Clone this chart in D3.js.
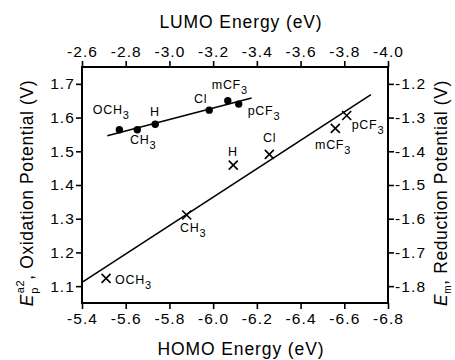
<!DOCTYPE html>
<html>
<head>
<meta charset="utf-8">
<script src="https://cdn.jsdelivr.net/npm/d3@7"></script>
<style>
  body { margin: 0; background: #fff; }
  text { font-family: "Liberation Sans", Arial, sans-serif; fill: #000; }
</style>
</head>
<body>
<div id="chart"></div>
<script>
// substituents
const names = ["OCH3", "CH3", "H", "Cl", "mCF3", "pCF3"];

// oxidation (filled circles) vs HOMO
const homo = [-5.571, -5.653, -5.735, -5.982, -6.067, -6.117];
const oxPot = [1.564, 1.564, 1.580, 1.622, 1.650, 1.640];
const oxFitX = [-5.516, -6.176];
const oxFitY = [1.546, 1.658];

// reduction (crosses) vs LUMO
const lumo = [-2.710, -3.079, -3.292, -3.457, -3.759, -3.811];
const redPot = [-1.777, -1.589, -1.441, -1.409, -1.332, -1.294];
const redFitX = [-2.6, -3.922];
const redFitY = [-1.789, -1.232];

const homoTicks = [-5.4, -5.6, -5.8, -6.0, -6.2, -6.4, -6.6, -6.8];
const lumoTicks = [-2.6, -2.8, -3.0, -3.2, -3.4, -3.6, -3.8, -4.0];
const oxTicks = [1.1, 1.2, 1.3, 1.4, 1.5, 1.6, 1.7];
const redTicks = [-1.2, -1.3, -1.4, -1.5, -1.6, -1.7, -1.8];

const width = 455, height = 360;
const margin = {top: 67, right: 67, bottom: 57, left: 82};
const w = width - margin.left - margin.right;
const h = height - margin.top - margin.bottom;

const svg = d3.select("#chart").append("svg")
    .attr("width", width).attr("height", height);
const g = svg.append("g")
    .attr("transform", `translate(${margin.left},${margin.top})`);

const xB = d3.scaleLinear().domain([-5.4, -6.8]).range([0, w]);
const xT = d3.scaleLinear().domain([-2.6, -4.0]).range([0, w]);
const yL = d3.scaleLinear().domain([1.05, 1.75]).range([h, 0]);
const yR = d3.scaleLinear().domain([-1.85, -1.15]).range([h, 0]);

const fmt = d => d.toFixed(1);

function styleAxis(sel) {
    sel.select(".domain").remove();
    sel.selectAll(".tick line").attr("stroke", "#000").attr("stroke-width", 1.6);
    sel.selectAll(".tick text")
        .style("font-size", "15.5px")
        .style("letter-spacing", "1.1px")
        .attr("fill", "#000");
}

g.append("g").attr("transform", `translate(0,${h})`)
    .call(d3.axisBottom(xB).tickValues(homoTicks).tickFormat(fmt).tickSize(6).tickPadding(4))
    .call(styleAxis);
g.append("g")
    .call(d3.axisTop(xT).tickValues(lumoTicks).tickFormat(fmt).tickSize(6).tickPadding(4))
    .call(styleAxis);
g.append("g")
    .call(d3.axisLeft(yL).tickValues(oxTicks).tickFormat(fmt).tickSize(6).tickPadding(1))
    .call(styleAxis);
g.append("g").attr("transform", `translate(${w},0)`)
    .call(d3.axisRight(yR).tickValues(redTicks).tickFormat(fmt).tickSize(6).tickPadding(1))
    .call(styleAxis);

g.append("rect")
    .attr("width", w).attr("height", h)
    .attr("fill", "none").attr("stroke", "#000").attr("stroke-width", 2);

// fit lines
g.append("line")
    .attr("x1", xB(oxFitX[0])).attr("y1", yL(oxFitY[0]))
    .attr("x2", xB(oxFitX[1])).attr("y2", yL(oxFitY[1]))
    .attr("stroke", "#000").attr("stroke-width", 1.6);
g.append("line")
    .attr("x1", xT(redFitX[0])).attr("y1", yR(redFitY[0]))
    .attr("x2", xT(redFitX[1])).attr("y2", yR(redFitY[1]))
    .attr("stroke", "#000").attr("stroke-width", 1.6);

// markers
g.selectAll(".ox").data(names).enter().append("circle")
    .attr("cx", (d, i) => xB(homo[i]))
    .attr("cy", (d, i) => yL(oxPot[i]))
    .attr("r", 3.7).attr("fill", "#000");

const s = 4.5;
g.selectAll(".red").data(names).enter().append("path")
    .attr("transform", (d, i) => `translate(${xT(lumo[i])},${yR(redPot[i])})`)
    .attr("d", `M${-s},${-s}L${s},${s}M${-s},${s}L${s},${-s}`)
    .attr("stroke", "#000").attr("stroke-width", 1.6).attr("fill", "none");

// label offsets (text start, baseline) from the marker
const oxOff = [[-26.6, -15.7], [-7.3, 14.3], [-5.3, -8.3], [-15.3, -7.3], [-16, -11.7], [9, 11.4]];
const redOff = [[9, 5.7], [-6.7, 17], [-5.3, -9.3], [-6.3, -12.3], [-20.3, 20.7], [5, 13.3]];

function label(x, y, name) {
    const t = g.append("text")
        .attr("x", x).attr("y", y)
        .style("font-size", "12.5px")
        .style("letter-spacing", "0.7px");
    const m = name.match(/^(.*?)(3?)$/);
    t.append("tspan").text(m[1]);
    if (m[2]) {
        t.append("tspan").attr("dy", 5).style("font-size", "11px").text(m[2]);
    }
}
names.forEach((n, i) => {
    label(xB(homo[i]) + oxOff[i][0], yL(oxPot[i]) + oxOff[i][1], n);
    label(xT(lumo[i]) + redOff[i][0], yR(redPot[i]) + redOff[i][1], n);
});

// axis titles
svg.append("text")
    .attr("x", margin.left + w / 2 + 6).attr("y", 28)
    .attr("text-anchor", "middle")
    .style("font-size", "17.5px").style("letter-spacing", "0.9px")
    .text("LUMO Energy (eV)");
svg.append("text")
    .attr("x", margin.left + w / 2 + 6).attr("y", 355)
    .attr("text-anchor", "middle")
    .style("font-size", "17.5px").style("letter-spacing", "0.9px")
    .text("HOMO Energy (eV)");

const lt = svg.append("text")
    .attr("transform", `translate(33,${margin.top + h / 2 + 8}) rotate(-90)`)
    .attr("text-anchor", "middle")
    .style("font-size", "17.5px").style("letter-spacing", "0.6px");
lt.append("tspan").style("font-style", "italic").text("E");
lt.append("tspan").attr("dy", 5).style("font-size", "11px").text("p");
lt.append("tspan").attr("dx", -6).attr("dy", -14).style("font-size", "11px").text("a2");
lt.append("tspan").attr("dy", 9).text(", Oxidation Potential (V)");

const rt = svg.append("text")
    .attr("transform", `translate(447,${margin.top + h / 2 + 8}) rotate(-90)`)
    .attr("text-anchor", "middle")
    .style("font-size", "17.5px").style("letter-spacing", "0.6px");
rt.append("tspan").style("font-style", "italic").text("E");
rt.append("tspan").attr("dy", 4).style("font-size", "10px").text("m");
rt.append("tspan").attr("dy", -4).text(", Reduction Potential (V)");
</script>
</body>
</html>
